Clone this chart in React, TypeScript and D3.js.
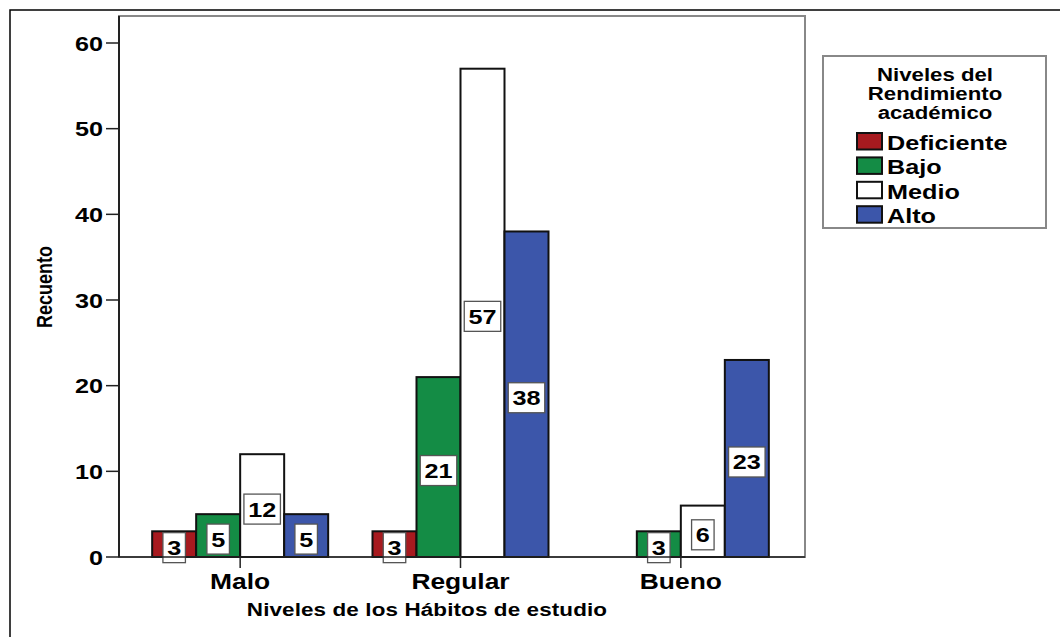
import React from "react";
import * as d3 from "d3";

const categories = ["Malo", "Regular", "Bueno"];
const seriesNames = ["Deficiente", "Bajo", "Medio", "Alto"];
const seriesColors = ["#a71a1f", "#148c45", "#ffffff", "#3c56aa"];
const deficiente = [3, 3, 0];
const bajo = [5, 21, 3];
const medio = [12, 57, 6];
const alto = [5, 38, 23];
const yTicks = [0, 10, 20, 30, 40, 50, 60];
const legendTitle = ["Niveles del", "Rendimiento", "académico"];
const xTitle = "Niveles de los Hábitos de estudio";
const yTitle = "Recuento";

const series = [deficiente, bajo, medio, alto];
const SX = 1.2;
const FONT = "'Liberation Sans', Arial, sans-serif";

function T({ x, y, size, anchor = "middle", children, rotate = 0, ls = 0 }: any) {
  return (
    <text
      transform={`translate(${x},${y}) scale(${SX},1)${rotate ? ` rotate(${rotate})` : ""}`}
      fontFamily={FONT}
      fontWeight="bold"
      fontSize={size}
      textAnchor={anchor}
      letterSpacing={ls}
      fill="#000"
    >
      {children}
    </text>
  );
}

export default function App() {
  const plot = { l: 119, r: 805, t: 16, b: 557 };
  const y = d3.scaleLinear().domain([0, 60]).range([557, 43]);
  const x = d3.scaleBand().domain(categories).range([130, 791]).padding(0);
  const inner = d3.scaleBand().domain(seriesNames).range([0, 176]);

  const bars: any[] = [];
  const labels: any[] = [];
  categories.forEach((c, ci) => {
    const cx = (x(c) as number) + x.bandwidth() / 2;
    const gx = cx - 88;
    series.forEach((s, si) => {
      const v = s[ci];
      if (!v) return;
      const bx = gx + (inner(seriesNames[si]) as number);
      const bw = inner.bandwidth();
      bars.push(
        <rect
          key={`b${ci}-${si}`}
          x={bx}
          y={y(v)}
          width={bw}
          height={y(0) - y(v)}
          fill={seriesColors[si]}
          stroke="#111"
          strokeWidth={2}
        />
      );
      const str = String(v);
      const w = str.length * 14 + 8.5;
      const cy = (y(v) + y(0)) / 2 + 3.5;
      labels.push(
        <g key={`l${ci}-${si}`}>
          <rect
            x={bx + bw / 2 - w / 2}
            y={cy - 15}
            width={w}
            height={30}
            fill="#fff"
            stroke="#555"
            strokeWidth={1.3}
          />
          <T x={bx + bw / 2} y={cy + 7.5} size={21}>
            {str}
          </T>
        </g>
      );
    });
  });

  return (
    <svg
      width={1060}
      height={637}
      style={{ position: "absolute", left: 0, top: 0, background: "#fff" }}
    >
      <rect x={10} y={10} width={1100} height={700} fill="#fff" stroke="#000" strokeWidth={1.5} />
      <rect
        x={plot.l}
        y={plot.t}
        width={plot.r - plot.l}
        height={plot.b - plot.t}
        fill="#fff"
        stroke="#888"
        strokeWidth={2}
      />
      {bars}
      {labels}
      <line x1={plot.l} y1={plot.t} x2={plot.l} y2={plot.b} stroke="#222" strokeWidth={2} />
      <line x1={plot.l} y1={plot.b} x2={plot.r} y2={plot.b} stroke="#222" strokeWidth={1.5} />
      {yTicks.map((t) => (
        <g key={t}>
          <line x1={106} x2={plot.l} y1={y(t)} y2={y(t)} stroke="#222" strokeWidth={1.5} />
          <T x={103} y={y(t) + 7.5} size={21} anchor="end">
            {t}
          </T>
        </g>
      ))}
      {categories.map((c) => {
        const cx = (x(c) as number) + x.bandwidth() / 2;
        return (
          <g key={c}>
            <line x1={cx} x2={cx} y1={plot.b} y2={plot.b + 11} stroke="#222" strokeWidth={1.5} />
            <T x={cx} y={589} size={22}>
              {c}
            </T>
          </g>
        );
      })}
      <T x={427} y={616} size={18.7} ls={0.1}>
        {xTitle}
      </T>
      <T x={52} y={287} size={18} rotate={-90}>
        {yTitle}
      </T>
      <rect x={823} y={56} width={223} height={172} fill="#fff" stroke="#888" strokeWidth={2} />
      {legendTitle.map((s, i) => (
        <T key={s} x={935} y={80.5 + i * 19} size={18.5}>
          {s}
        </T>
      ))}
      {seriesNames.map((s, i) => (
        <g key={s}>
          <rect
            x={857}
            y={133 + i * 24.4}
            width={25}
            height={16.5}
            fill={seriesColors[i]}
            stroke="#111"
            strokeWidth={2}
          />
          <T x={887} y={150 + i * 24.4} size={21} anchor="start">
            {s}
          </T>
        </g>
      ))}
    </svg>
  );
}
